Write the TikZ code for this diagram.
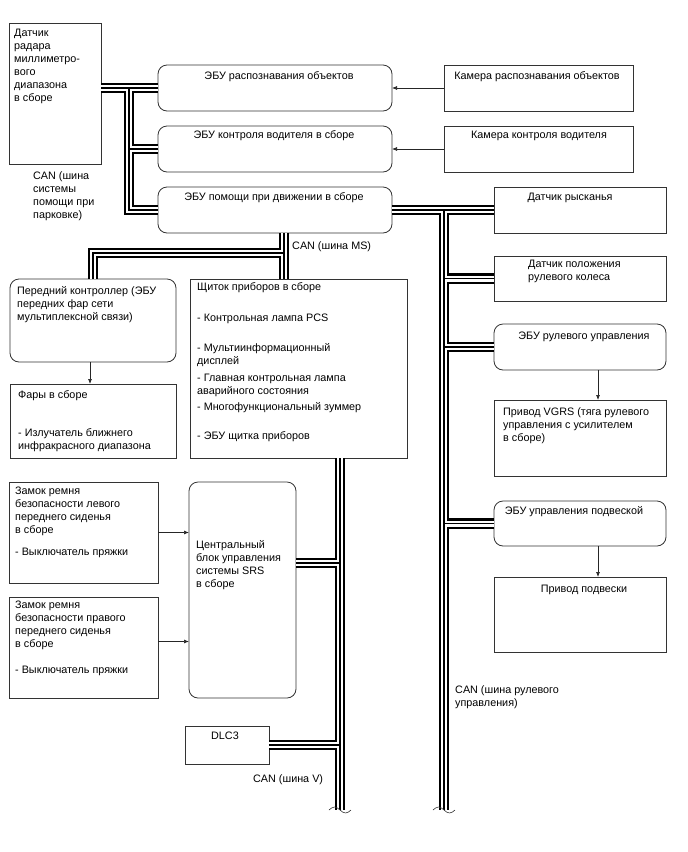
\documentclass[tikz,border=0pt]{standalone}
\usepackage{fontspec}
\setmainfont{Liberation Sans}
\usetikzlibrary{arrows.meta}
\tikzset{
  wdbox/.style={rectangle, draw=black!80, line width=0.8pt, fill=white,
                inner sep=0pt, outer sep=0pt},
  wdecu/.style={wdbox, rounded corners=9pt},
  wdtext/.style={inner sep=0pt, align=left,
                 font=\fontsize{10.8}{13}\selectfont},
  wdsignal/.style={draw=black!85, line width=0.7pt,
                   -{Latex[length=5pt, width=4pt]}},
  wdbreak/.style={draw=black!80, line width=0.6pt}
}

\begin{document}
\begin{tikzpicture}[
    x=1pt, y=-1pt,
    % a CAN line is three strokes laid on top of one another
    busouter/.style={draw=black, line width=10.5pt},
    businner/.style={draw=white, line width=6pt},
    buscore/.style={draw=black, line width=1.4pt},
    lbl/.style={wdtext, anchor=north west},
    ttl/.style={wdtext, anchor=base}
]
  \useasboundingbox (0,0) rectangle (688,852);

  % Left column and the three upper ECUs
  \node[wdbox, minimum width=92, minimum height=141] (radar) at (55,93.5) {};
  \node[wdecu, minimum width=234, minimum height=46] (ecuobj) at (275,88) {};
  \node[wdecu, minimum width=234, minimum height=46] (ecudrv) at (275,149) {};
  \node[wdecu, minimum width=234, minimum height=46] (ecuasst) at (275,210) {};
  \node[wdbox, minimum width=189, minimum height=46] (camobj) at (538.5,88) {};
  \node[wdbox, minimum width=189, minimum height=46] (camdrv) at (538.5,149) {};

  % Steering side
  \node[wdbox, minimum width=172, minimum height=46] (yaw) at (580,210) {};
  \node[wdbox, minimum width=172, minimum height=45] (steersens) at (580,278.5) {};
  \node[wdecu, minimum width=172, minimum height=46] (ecusteer) at (580,347) {};
  \node[wdbox, minimum width=172, minimum height=76] (vgrs) at (580,438) {};
  \node[wdecu, minimum width=172, minimum height=45] (ecususp) at (580,523.5) {};
  \node[wdbox, minimum width=172, minimum height=75] (suspact) at (580,614.5) {};

  % MS and V side
  \node[wdecu, minimum width=166, minimum height=83] (frontctl) at (93,320.5) {};
  \node[wdbox, minimum width=166, minimum height=74] (headl) at (93,421) {};
  \node[wdbox, minimum width=217, minimum height=179] (cluster) at (298.5,368.5) {};
  \node[wdbox, minimum width=149, minimum height=101] (beltl) at (83.5,532.5) {};
  \node[wdbox, minimum width=149, minimum height=101] (beltr) at (83.5,647.5) {};
  \node[wdecu, minimum width=107, minimum height=216] (srs) at (242.5,590) {};
  \node[wdbox, minimum width=84, minimum height=38] (dlc) at (227,745) {};

  % Bus knots and loose ends
  \coordinate (pk) at (129,88);
  \coordinate (msk) at (284,253);
  \coordinate (ms) at (284,233);
  \coordinate (vtop) at (340,458);
  \coordinate (vsrs) at (340,563);
  \coordinate (vend) at (340,810);
  \coordinate (sk) at (444,210);
  \coordinate (send) at (444,810);

  \foreach \lay in {busouter, businner, buscore} {
    \draw[\lay] (radar.east |- ecuobj.west) -- (ecuobj.west)
                (pk) |- (ecuasst.west)
                (pk |- ecudrv.west) -- (ecudrv.west);
    \draw[\lay] (ms) -- (ms |- cluster.north)
                (msk) -| (frontctl.north);
    \draw[\lay] (vtop) -- (vend)
                (vsrs) -- (vsrs -| srs.east)
                (dlc.east) -- (dlc.east -| vend);
    \draw[\lay] (ecuasst.east) -- (yaw.west)
                (sk) -- (send)
                (steersens.west -| sk) -- (steersens.west)
                (ecusteer.west -| sk) -- (ecusteer.west)
                (ecususp.west -| sk) -- (ecususp.west);
  }
  \draw[wdbreak] ([xshift=-11pt]vend) sin ++(5.5,-3) cos ++(5.5,3)
                 sin ++(5.5,3) cos ++(5.5,-3);
  \draw[wdbreak] ([xshift=-11pt]send) sin ++(5.5,-3) cos ++(5.5,3)
                 sin ++(5.5,3) cos ++(5.5,-3);

  % Signal lines
  \draw[wdsignal] (camobj.west) -- (ecuobj.east);
  \draw[wdsignal] (camdrv.west) -- (ecudrv.east);
  \draw[wdsignal] ([xshift=-3pt]frontctl.south) -- ([xshift=-3pt]headl.north);
  \draw[wdsignal] ([xshift=18pt]ecusteer.south) -- ([xshift=18pt]vgrs.north);
  \draw[wdsignal] ([xshift=18pt]ecususp.south) -- ([xshift=18pt]suspact.north);
  \draw[wdsignal] (beltl.east) -- (beltl.east -| srs.west);
  \draw[wdsignal] ([yshift=6pt]beltr.east) -- ([yshift=6pt]beltr.east -| srs.west);

  % Texts
  \node[lbl] (radar-t) at (14,29) {Датчик\\радара\\миллиметро-\\вого\\диапазона\\в сборе};
  \node[lbl] (canpark) at (33,171) {CAN (шина\\системы\\помощи при\\парковке)};
  \node[ttl] (ecuobj-t) at (279,79) {ЭБУ распознавания объектов};
  \node[ttl] (camobj-t) at (537,79) {Камера распознавания объектов};
  \node[ttl] (ecudrv-t) at (274,138) {ЭБУ контроля водителя в сборе};
  \node[ttl] (camdrv-t) at (539,138) {Камера контроля водителя};
  \node[ttl] (ecuasst-t) at (274,200) {ЭБУ помощи при движении в сборе};
  \node[ttl] (yaw-t) at (570,200) {Датчик рысканья};
  \node[lbl] (steersens-t) at (528,260) {Датчик положения\\рулевого колеса};
  \node[ttl] (ecusteer-t) at (584,339) {ЭБУ рулевого управления};
  \node[lbl] (vgrs-t) at (503,407) {Привод VGRS (тяга рулевого\\управления с усилителем\\в сборе)};
  \node[ttl] (ecususp-t) at (574,514) {ЭБУ управления подвеской};
  \node[ttl] (suspact-t) at (584,592) {Привод подвески};
  \node[wdtext, anchor=base west] (canms) at (292,249) {CAN (шина MS)};
  \node[lbl] (frontctl-t) at (17,286) {Передний контроллер (ЭБУ\\передних фар сети\\мультиплексной связи)};
  \node[lbl] (headl-t) at (18,390) {Фары в сборе\\[25pt]- Излучатель ближнего\\инфракрасного диапазона};
  \node[lbl] (cluster-t) at (197,282) {Щиток приборов в сборе\\[18pt]- Контрольная лампа PCS\\[17pt]- Мультиинформационный\\дисплей\\[4pt]- Главная контрольная лампа\\аварийного состояния\\[3pt]- Многофункциональный зуммер\\[16pt]- ЭБУ щитка приборов};
  \node[lbl] (beltl-t) at (15,487) {Замок ремня\\безопасности левого\\переднего сиденья\\в сборе\\[9pt]- Выключатель пряжки};
  \node[lbl] (beltr-t) at (15,601) {Замок ремня\\безопасности правого\\переднего сиденья\\в сборе\\[13pt]- Выключатель пряжки};
  \node[lbl] (srs-t) at (196,540) {Центральный\\блок управления\\системы SRS\\в сборе};
  \node[ttl] (dlc-t) at (225,739) {DLC3};
  \node[wdtext, anchor=base west] (canv) at (253,782) {CAN (шина V)};
  \node[lbl] (cansteer) at (455,685) {CAN (шина рулевого\\управления)};
\end{tikzpicture}
\end{document}
